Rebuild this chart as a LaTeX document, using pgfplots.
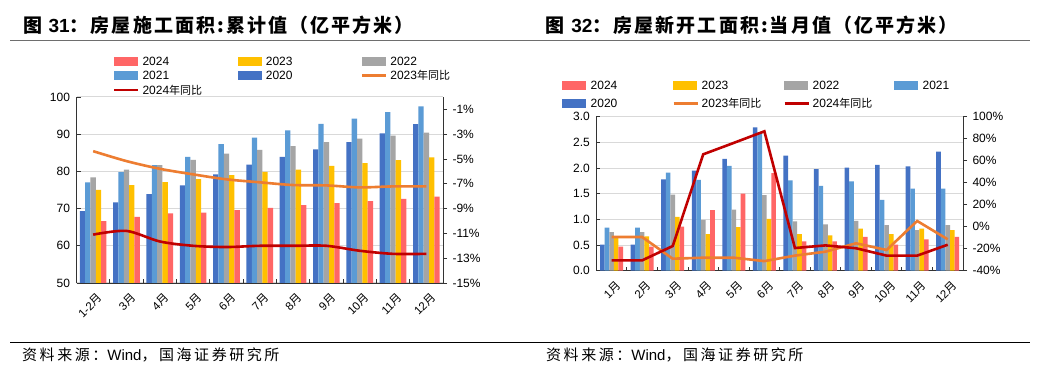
\documentclass[border=0pt]{standalone}
\usepackage{fontspec}
\setmainfont{Liberation Sans}
\newfontfamily\cjk{Noto Sans CJK SC}
\newfontfamily\cjkt[LetterSpace=11]{Noto Sans CJK SC}
\newfontfamily\cjkf[LetterSpace=17]{Noto Sans CJK SC}
\usepackage{pgfplots}
\usepackage{pgfplotstable}
\pgfplotsset{compat=1.18}
\definecolor{c2024}{HTML}{FF6666}
\definecolor{c2023}{HTML}{FFC000}
\definecolor{c2022}{HTML}{A5A5A5}
\definecolor{c2021}{HTML}{5B9BD5}
\definecolor{c2020}{HTML}{4472C4}
\definecolor{g23}{HTML}{ED7D31}
\definecolor{g24}{HTML}{C00000}
\definecolor{gridc}{HTML}{D9D9D9}
\definecolor{rulec}{HTML}{6E6E6E}
\newcommand{\yue}{{\cjk 月}}
\newcommand{\tb}{{\cjk\fontsize{11}{11}\selectfont 年同比}}

\pgfplotstableread{
x y20 y21 y22 y23 y24 g23 g24
0 69.3 77.05 78.4 75.0 66.6 -4.37 -11.1
1 71.7 79.8 80.5 76.3 67.8 -5.17 -10.8
2 73.9 81.7 81.7 77.1 68.7 -5.79 -11.65
3 76.25 83.9 83.1 77.9 68.9 -6.24 -12.0
4 79.2 87.3 84.8 79.0 69.6 -6.64 -12.1
5 81.8 89.1 85.8 79.9 70.2 -6.88 -12.0
6 83.9 91.0 86.8 80.5 70.9 -7.10 -12.0
7 85.9 92.8 87.9 81.5 71.5 -7.13 -12.0
8 87.9 94.2 88.8 82.2 72.0 -7.29 -12.4
9 90.2 95.9 89.6 83.0 72.6 -7.21 -12.65
10 92.7 97.5 90.4 83.8 73.2 -7.21 -12.65
}\tabL

\pgfplotstableread{
x y20 y21 y22 y23 y24 g23 g24
0 0.51 0.84 0.75 0.66 0.47 -9.4 -30.6
1 0.51 0.84 0.75 0.67 0.47 -9.4 -30.6
2 1.78 1.91 1.48 1.05 0.86 -29.1 -17.6
3 1.95 1.77 0.99 0.71 1.18 -28.2 65.8
4 2.18 2.04 1.19 0.85 1.50 -28.2 76.2
5 2.79 2.70 1.47 1.01 1.90 -31.3 86.7
6 2.24 1.76 0.96 0.71 0.57 -26.3 -19.4
7 1.98 1.65 0.90 0.69 0.57 -22.7 -17.0
8 2.01 1.74 0.97 0.82 0.66 -15.1 -19.6
9 2.06 1.38 0.89 0.71 0.51 -21.2 -26.3
10 2.03 1.60 0.79 0.82 0.61 5.2 -26.3
11 2.32 1.60 0.89 0.79 0.66 -11.5 -16.4
}\tabR

\pgfplotsset{
  lgbox/.style={legend image code/.code={\fill[#1] (0pt,-3.8pt) rectangle (23pt,3.8pt); \path (28pt,0pt);}},
  lgline/.style={legend image code/.code={\draw[#1, line width=2.6pt] (0pt,0pt) -- (24pt,0pt); \path (28pt,0pt);}},
  baseax/.style={
    scale only axis, anchor=south west,
    axis line style={black!80, line width=0.9pt},
    tick style={black!80, line width=0.8pt},
    major tick length=4pt,
    ticklabel style={font=\fontsize{12}{12}\selectfont},
    /pgf/number format/assume math mode=true,
  },
  barax/.style={
    baseax, ybar=0pt,
    axis x line*=bottom, axis y line*=left,
    tick align=inside,
    x tick label as interval,
    xticklabel style={font=\fontsize{11.5}{11.5}\selectfont, rotate=45, anchor=east, inner sep=0pt, xshift=-4pt, yshift=-14pt},
    ymajorgrids, grid style={gridc, line width=1pt},
    yticklabel style={xshift=-3pt},
  },
  lineax/.style={
    baseax, axis x line=none, axis y line*=right,
    tick align=outside,
    yticklabel={\pgfmathprintnumber[assume math mode=true]{\tick}\%},
    yticklabel style={xshift=2pt},
    legend cell align=left,
    legend style={draw=none, fill=none, inner sep=0pt, outer sep=0pt, column sep=0pt,
      font=\fontsize{12}{12}\selectfont,
      nodes={inner sep=0pt, text height=8.6pt, text depth=0pt, anchor=west}},
  },
}

\begin{document}
\begin{tikzpicture}[x=1pt,y=1pt]
\useasboundingbox (0,0) rectangle (1050,379);
\fill[white] (0,0) rectangle (1050,379);

% titles and rules
\node[anchor=west, inner sep=0pt] at (23,354) {\fontsize{19}{19}\selectfont\bfseries\cjkt 图 {\rmfamily\bfseries 31}：房屋施工面积:累计值（亿平方米）};
\node[anchor=west, inner sep=0pt] at (545.7,354) {\fontsize{19}{19}\selectfont\bfseries\cjkt 图 {\rmfamily\bfseries 32}：房屋新开工面积:当月值（亿平方米）};
\draw[rulec, line width=1.5pt] (10,338.3) -- (1030,338.3);
\draw[black, line width=1pt] (10,36) -- (1030,36);
\node[anchor=west, inner sep=0pt] at (22,24) {\fontsize{15}{15}\selectfont\cjkf 资料来源：{\rmfamily Wind}，国海证券研究所};
\node[anchor=west, inner sep=0pt] at (546,24) {\fontsize{15}{15}\selectfont\cjkf 资料来源：{\rmfamily Wind}，国海证券研究所};

% ---------- left chart: bars ----------
\begin{axis}[barax,
  at={(76.5pt,96pt)}, width=366.5pt, height=186pt,
  bar width=5.33pt,
  xmin=-0.5, xmax=10.5, ymin=50, ymax=100, ytick={50,60,...,100},
  xtick={-0.5,0.5,...,10.5},
  xticklabels={{1-2\yue},{3\yue},{4\yue},{5\yue},{6\yue},{7\yue},{8\yue},{9\yue},{10\yue},{11\yue},{12\yue}},
]
\addplot[fill=c2020, draw=none] table[x=x,y=y20]{\tabL};
\addplot[fill=c2021, draw=none] table[x=x,y=y21]{\tabL};
\addplot[fill=c2022, draw=none] table[x=x,y=y22]{\tabL};
\addplot[fill=c2023, draw=none] table[x=x,y=y23]{\tabL};
\addplot[fill=c2024, draw=none] table[x=x,y=y24]{\tabL};
\end{axis}
% ---------- left chart: lines ----------
\begin{axis}[lineax,
  at={(76.5pt,96pt)}, width=366.5pt, height=186pt,
  xmin=-0.5, xmax=10.5, ymin=-15, ymax=0, ytick={-15,-13,...,-1},
  legend columns=3,
  legend style={at={(axis description cs:0.0996,1.2167)}, anchor=north west, row sep=5.9pt},
]
\addlegendimage{lgbox=c2024}\addlegendentry{\makebox[95pt][l]{2024}}
\addlegendimage{lgbox=c2023}\addlegendentry{\makebox[95pt][l]{2023}}
\addlegendimage{lgbox=c2022}\addlegendentry{\makebox[95pt][l]{2022}}
\addlegendimage{lgbox=c2021}\addlegendentry{\makebox[95pt][l]{2021}}
\addlegendimage{lgbox=c2020}\addlegendentry{\makebox[95pt][l]{2020}}
\addlegendimage{lgline=g23}\addlegendentry{\makebox[95pt][l]{2023\tb}}
\addlegendimage{lgline=g24}\addlegendentry{\makebox[95pt][l]{2024\tb}}
\addplot[g23, line width=2.6pt, smooth, forget plot] table[x=x,y=g23]{\tabL};
\addplot[g24, line width=2.6pt, smooth, forget plot] table[x=x,y=g24]{\tabL};
\end{axis}

% ---------- right chart: bars ----------
\begin{axis}[barax,
  at={(596.3pt,108.3pt)}, width=366.7pt, height=154pt,
  bar width=4.6pt,
  xmin=-0.5, xmax=11.5, ymin=0, ymax=3, ytick={0,0.5,...,3},
  yticklabel={\pgfmathprintnumber[fixed,fixed zerofill,precision=1,assume math mode=true]{\tick}},
  xtick={-0.5,0.5,...,11.5},
  xticklabels={{1\yue},{2\yue},{3\yue},{4\yue},{5\yue},{6\yue},{7\yue},{8\yue},{9\yue},{10\yue},{11\yue},{12\yue}},
]
\addplot[fill=c2020, draw=none] table[x=x,y=y20]{\tabR};
\addplot[fill=c2021, draw=none] table[x=x,y=y21]{\tabR};
\addplot[fill=c2022, draw=none] table[x=x,y=y22]{\tabR};
\addplot[fill=c2023, draw=none] table[x=x,y=y23]{\tabR};
\addplot[fill=c2024, draw=none] table[x=x,y=y24]{\tabR};
\end{axis}
% ---------- right chart: lines ----------
\begin{axis}[lineax,
  at={(596.3pt,108.3pt)}, width=366.7pt, height=154pt,
  xmin=-0.5, xmax=11.5, ymin=-40, ymax=100, ytick={-40,-20,...,100},
  legend columns=4,
  legend style={at={(axis description cs:-0.0927,1.2338)}, anchor=north west, row sep=9.7pt},
]
\addlegendimage{lgbox=c2024}\addlegendentry{\makebox[81.5pt][l]{2024}}
\addlegendimage{lgbox=c2023}\addlegendentry{\makebox[81.5pt][l]{2023}}
\addlegendimage{lgbox=c2022}\addlegendentry{\makebox[81.5pt][l]{2022}}
\addlegendimage{lgbox=c2021}\addlegendentry{\makebox[81.5pt][l]{2021}}
\addlegendimage{lgbox=c2020}\addlegendentry{\makebox[81.5pt][l]{2020}}
\addlegendimage{lgline=g23}\addlegendentry{\makebox[81.5pt][l]{2023\tb}}
\addlegendimage{lgline=g24}\addlegendentry{\makebox[81.5pt][l]{2024\tb}}
\addplot[g23, line width=2.6pt, forget plot] table[x=x,y=g23]{\tabR};
\addplot[g24, line width=2.6pt, forget plot] table[x=x,y=g24]{\tabR};
\end{axis}
\end{tikzpicture}
\end{document}
